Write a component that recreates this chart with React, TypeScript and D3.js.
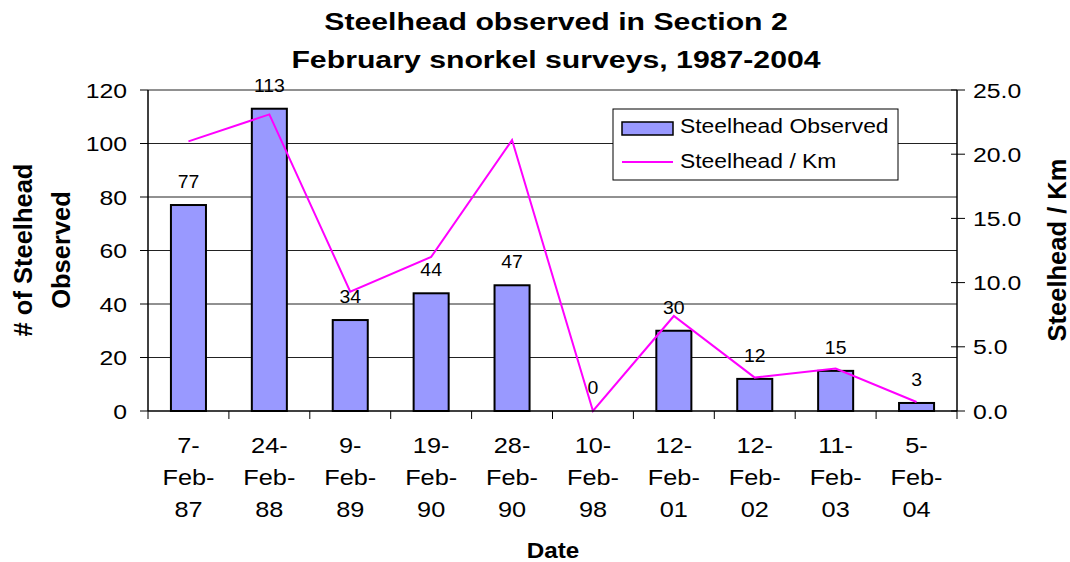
import * as d3 from "d3";

const dates: string[] = [
  "7-Feb-87",
  "24-Feb-88",
  "9-Feb-89",
  "19-Feb-90",
  "28-Feb-90",
  "10-Feb-98",
  "12-Feb-01",
  "12-Feb-02",
  "11-Feb-03",
  "5-Feb-04",
];
const observed: number[] = [77, 113, 34, 44, 47, 0, 30, 12, 15, 3];
const perKm: number[] = [21.0, 23.1, 9.3, 12.0, 21.1, 0, 7.4, 2.6, 3.3, 0.7];
const leftTicks: number[] = [0, 20, 40, 60, 80, 100, 120];
const rightTicks: number[] = [0, 5, 10, 15, 20, 25];

const W = 1070;
const H = 562;
const left = 148;
const right = 957;
const top = 90;
const bottom = 411;
const font = "Arial, 'Liberation Sans', sans-serif";

// Excel export is stretched sideways, so text gets a horizontal scale
const T = ({ x, y, sx = 1, size, bold = false, anchor = "start", children }: any) => (
  <text
    transform={`translate(${x},${y}) scale(${sx},1)`}
    fontSize={size}
    fontWeight={bold ? "bold" : "normal"}
    textAnchor={anchor}
    fontFamily={font}
    fill="#000"
  >
    {children}
  </text>
);

export default function App() {
  const x = d3
    .scaleBand<string>()
    .domain(dates)
    .range([left, right])
    .paddingInner(0.567)
    .paddingOuter(0.2835);
  const yL = d3.scaleLinear().domain([0, 120]).range([bottom, top]);
  const yR = d3.scaleLinear().domain([0, 25]).range([bottom, top]);
  const step = x.step();
  const cx = (d: string) => (x(d) as number) + x.bandwidth() / 2;

  const line = d3
    .line<number>()
    .x((_, i) => cx(dates[i]))
    .y((v) => yR(v));

  return (
    <svg
      width={W}
      height={H}
      style={{ position: "absolute", left: 0, top: 0, background: "#fff" }}
    >
      {/* titles */}
      <T x={556} y={30} sx={1.26} size={24} bold anchor="middle">
        Steelhead observed in Section 2
      </T>
      <T x={556} y={68} sx={1.26} size={24} bold anchor="middle">
        February snorkel surveys, 1987-2004
      </T>

      {/* gridlines */}
      {leftTicks
        .filter((t) => t > 0)
        .map((t) => (
          <line
            key={"g" + t}
            x1={left}
            x2={right}
            y1={yL(t)}
            y2={yL(t)}
            stroke="#222"
            strokeWidth={1}
          />
        ))}

      {/* bars */}
      {observed.map((v, i) => (
        <rect
          key={"b" + i}
          x={x(dates[i])}
          y={yL(v)}
          width={x.bandwidth()}
          height={bottom - yL(v)}
          fill="#9999FF"
          stroke="#000"
          strokeWidth={2}
        />
      ))}

      {/* line */}
      <path d={line(perKm) || ""} fill="none" stroke="#FF00FF" strokeWidth={2} />

      {/* data labels */}
      {observed.map((v, i) => (
        <T key={"l" + i} x={cx(dates[i])} y={yL(v) - 17} sx={1.05} size={18.5} anchor="middle">
          {v}
        </T>
      ))}

      {/* axes */}
      <line x1={left} x2={left} y1={top} y2={bottom} stroke="#000" strokeWidth={1.5} />
      <line x1={right} x2={right} y1={top} y2={bottom} stroke="#000" strokeWidth={1.5} />
      <line x1={left} x2={right} y1={bottom} y2={bottom} stroke="#000" strokeWidth={1.5} />
      {leftTicks.map((t) => (
        <g key={"lt" + t}>
          <line x1={left - 8} x2={left} y1={yL(t)} y2={yL(t)} stroke="#000" strokeWidth={1} />
          <T x={127} y={yL(t) + 7.5} sx={1.18} size={21} anchor="end">
            {t}
          </T>
        </g>
      ))}
      {rightTicks.map((t) => (
        <g key={"rt" + t}>
          <line x1={right - 6} x2={right + 8} y1={yR(t)} y2={yR(t)} stroke="#000" strokeWidth={1} />
          <T x={973} y={yR(t) + 7.5} sx={1.18} size={21}>
            {t.toFixed(1)}
          </T>
        </g>
      ))}
      {d3.range(dates.length + 1).map((i) => (
        <line
          key={"xt" + i}
          x1={left + i * step}
          x2={left + i * step}
          y1={bottom}
          y2={bottom + 8}
          stroke="#000"
          strokeWidth={1}
        />
      ))}
      {dates.map((d) => {
        const parts = d.split("-");
        return (
          <g key={"xl" + d}>
            <T x={cx(d)} y={453} sx={1.15} size={22} anchor="middle">
              {parts[0] + "-"}
            </T>
            <T x={cx(d)} y={485} sx={1.15} size={22} anchor="middle">
              {parts[1] + "-"}
            </T>
            <T x={cx(d)} y={517} sx={1.15} size={22} anchor="middle">
              {parts[2]}
            </T>
          </g>
        );
      })}

      {/* axis titles */}
      <text
        transform="translate(32,250) rotate(-90)"
        fontSize={25.5}
        fontWeight="bold"
        textAnchor="middle"
        fontFamily={font}
      >
        # of Steelhead
      </text>
      <text
        transform="translate(70,250) rotate(-90)"
        fontSize={25.5}
        fontWeight="bold"
        textAnchor="middle"
        fontFamily={font}
      >
        Observed
      </text>
      <text
        transform="translate(1066,250) rotate(-90)"
        fontSize={25.5}
        fontWeight="bold"
        textAnchor="middle"
        fontFamily={font}
      >
        Steelhead / Km
      </text>
      <T x={553} y={558} sx={1.1} size={22} bold anchor="middle">
        Date
      </T>

      {/* legend */}
      <rect x={613} y={109} width={285} height={71} fill="#fff" stroke="#000" strokeWidth={1} />
      <rect x={622} y={122} width={51} height={13} fill="#9999FF" stroke="#000" strokeWidth={1.5} />
      <T x={680} y={133} sx={1.09} size={21}>
        Steelhead Observed
      </T>
      <line x1={622} x2={673} y1={162} y2={162} stroke="#FF00FF" strokeWidth={2} />
      <T x={680} y={168} sx={1.09} size={21}>
        Steelhead / Km
      </T>
    </svg>
  );
}
